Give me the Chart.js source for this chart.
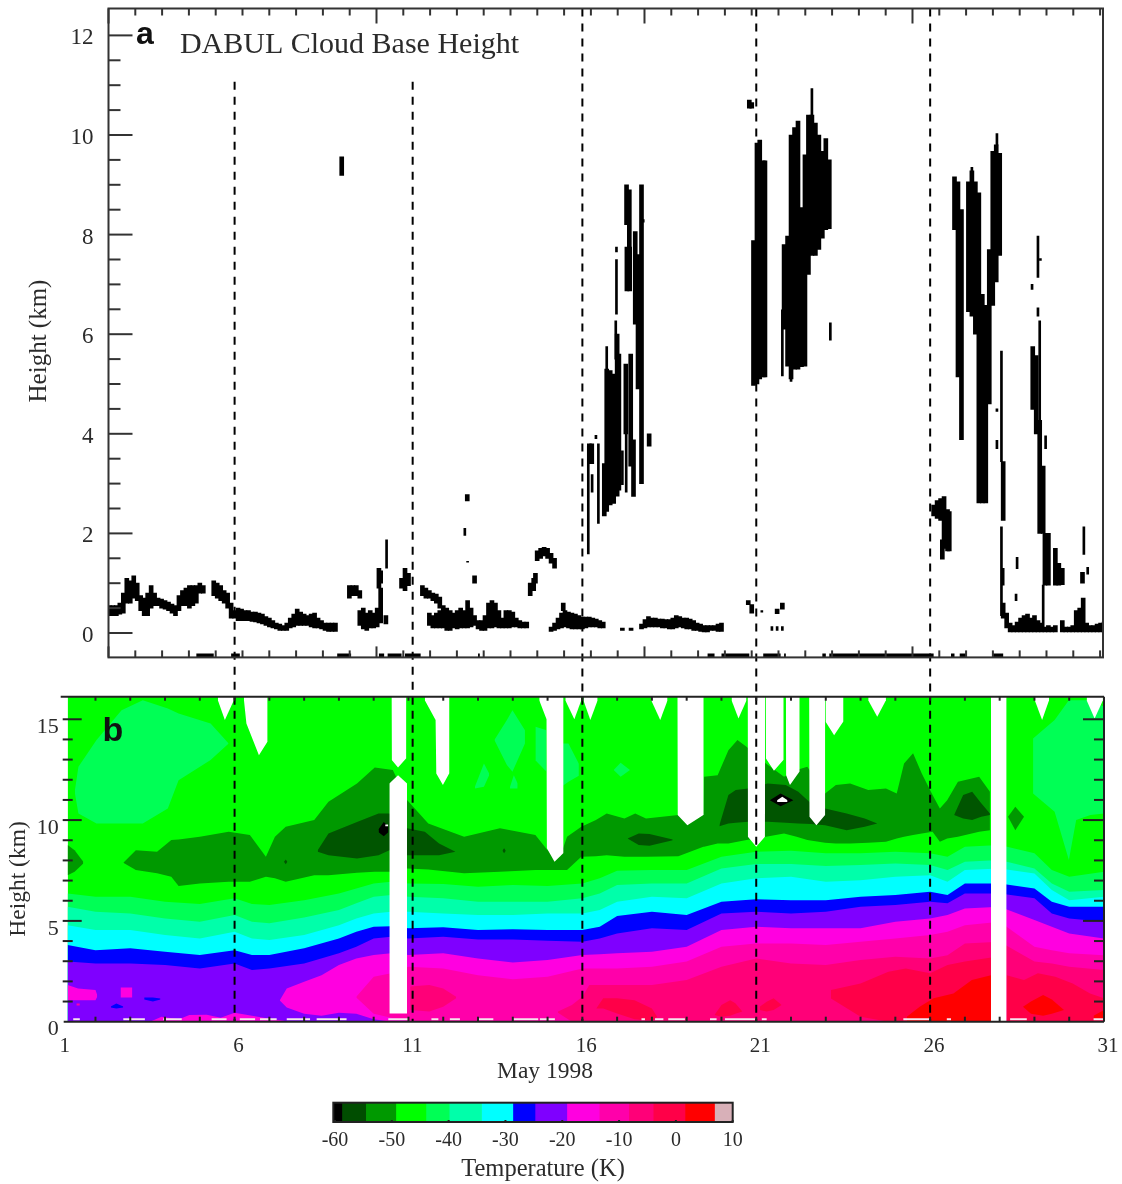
<!DOCTYPE html>
<html><head><meta charset="utf-8">
<script src="https://cdn.jsdelivr.net/npm/chart.js@4/dist/chart.umd.min.js"></script>
<style>html,body{margin:0;padding:0;background:#fff;width:1122px;height:1184px;overflow:hidden}canvas{position:absolute;display:block}</style>
</head><body>
<canvas id="pa" width="1122" height="697" style="left:0;top:0;width:1122px;height:697px"></canvas>
<canvas id="pb" width="1122" height="410" style="left:0;top:690px;width:1122px;height:410px"></canvas>
<canvas id="pc" width="470" height="89" style="left:300px;top:1095px;width:470px;height:89px"></canvas>
<script>
// ---------- panel a: cloud base spans [day, low km, high km]
const lowBandA=[[2.4,.35,.55],[2.5,.35,.55],[2.6,.35,.55],[2.7,.38,.6],[2.8,.4,.8],[2.9,.6,1.1],[3,.6,1.05],[3.1,.7,1.15],[3.2,.65,1],[3.3,.45,.75],[3.4,.35,.7],[3.5,.35,.8],[3.6,.5,.95],[3.7,.55,.8],[3.8,.55,.7],[3.9,.5,.68],[4,.48,.65],[4.1,.45,.62],[4.2,.4,.58],[4.3,.35,.55],[4.4,.45,.75],[4.5,.55,.85],[4.6,.55,.9],[4.7,.5,.95],[4.8,.55,.95],[4.9,.6,.95],[5,.8,1],[5.1,.8,.95],[5.4,.75,1.05],[5.5,.7,1],[5.6,.65,.95],[5.7,.6,.85],[5.8,.5,.8],[5.9,.3,.6],[6,.3,.45]];
const lowBandB=[[6.1,.25,.5],[6.2,.25,.48],[6.3,.25,.45],[6.4,.25,.45],[6.5,.23,.42],[6.6,.22,.42],[6.7,.2,.4],[6.8,.18,.38],[6.9,.15,.33],[7,.12,.3],[7.1,.1,.25],[7.2,.08,.2],[7.3,.05,.18],[7.4,.05,.15],[7.5,.05,.2],[7.6,.1,.3],[7.7,.12,.38],[7.8,.15,.48],[7.9,.15,.42],[8,.15,.38],[8.1,.15,.35],[8.2,.12,.38],[8.3,.1,.4],[8.4,.1,.3],[8.5,.08,.25],[8.6,.05,.2],[8.7,.03,.2],[8.8,.03,.2],[8.9,.03,.2]];
const lowBandC=[[9.3,.7,.95],[9.4,.75,.95],[9.5,.75,.95],[9.6,.7,.85],[9.6,.15,.45],[9.7,.08,.5],[9.8,.05,.4],[9.9,.1,.45],[10,.1,.4],[10.1,.12,.5],[10.15,.9,1.3],[10.2,.2,.9],[10.2,1,1.25],[10.35,.18,.35],[10.8,.9,1.1],[10.9,.85,1.3],[11,.95,1.2],[11.4,.75,.95],[11.5,.7,.9],[11.6,.7,.85],[11.7,.65,.8],[11.8,.6,.78],[11.9,.5,.72]];
const lowBandD=[[11.6,.15,.4],[11.7,.1,.35],[11.8,.1,.4],[11.9,.1,.45],[12,.1,.55],[12.1,.05,.5],[12.2,.05,.45],[12.3,.1,.4],[12.4,.08,.45],[12.5,.1,.5],[12.6,.1,.45],[12.7,.1,.65],[12.8,.12,.5],[12.9,.15,.35],[13,.08,.25],[13.1,.05,.25],[13.2,.05,.35],[13.3,.1,.6],[13.4,.1,.65],[13.5,.12,.6],[13.6,.1,.45],[13.7,.1,.3],[13.8,.1,.45],[13.9,.1,.45],[14,.12,.42],[14.1,.12,.3],[14.2,.1,.25],[14.3,.1,.22],[14.4,.1,.22]];
const lowBandE=[[15.1,.03,.12],[15.2,.05,.2],[15.3,.08,.3],[15.4,.1,.4],[15.5,.12,.45],[15.6,.1,.42],[15.7,.08,.4],[15.8,.08,.38],[15.9,.08,.35],[16,.08,.32],[16.1,.1,.32],[16.2,.12,.32],[16.3,.12,.3],[16.4,.12,.28],[16.5,.1,.25],[16.6,.1,.22],[17.15,.05,.1],[17.4,.05,.1]];
const lowBandF=[[17.7,.08,.18],[17.8,.1,.27],[17.9,.12,.33],[18,.12,.3],[18.1,.12,.3],[18.2,.12,.28],[18.3,.1,.28],[18.4,.1,.27],[18.5,.08,.27],[18.6,.08,.3],[18.7,.1,.35],[18.8,.12,.33],[18.9,.1,.3],[19,.08,.3],[19.1,.08,.28],[19.2,.05,.25],[19.3,.05,.2],[19.4,.03,.18],[19.5,.02,.15],[19.6,.02,.15],[19.7,.05,.15],[19.8,.05,.15],[19.9,.03,.18],[20,.03,.2]];
const lowBandG=[[28.1,.3,.6],[28.2,.1,.4],[28.3,.02,.2],[28.4,.02,.15],[28.5,.02,.22],[28.6,.02,.3],[28.7,.02,.35],[28.8,.02,.38],[28.9,.02,.3],[29,.02,.35],[29.1,.02,.25],[29.2,.02,.2],[29.3,.02,.12],[29.4,.02,.15],[29.5,.02,.12],[29.6,.02,.15],[29.8,.02,.25],[29.9,.02,.12],[30,.02,.12],[30.1,.02,.15],[30.2,.02,.45],[30.3,.02,.5],[30.4,.02,.7],[30.5,.02,.2],[30.6,.02,.15],[30.7,.02,.15],[30.8,.02,.18],[30.9,.02,.2],[31,.02,.22]];
const smallPieces=[[9.08,9.19,9.56],[12.69,2.65,2.78],[12.9,1,1.15],[14.5,.75,1],[14.6,.85,1.1],[14.65,1,1.2],[14.7,1.45,1.65],[14.8,1.5,1.7],[14.9,1.55,1.72],[15,1.5,1.7],[15.1,1.4,1.6],[15.2,1.3,1.5],[15.45,.45,.6],[20.8,10.54,10.7],[20.87,10.54,10.65],[20.77,.57,.65],[20.87,.4,.57],[21.6,.39,.48],[21.75,.48,.6],[26.1,2.35,2.57],[26.2,2.3,2.66],[26.3,2.26,2.7],[26.35,1.48,1.87],[26.4,1.7,2.74],[26.5,1.65,2.48],[26.55,1.65,2.44],[29.6,.96,1.7],[29.7,.96,1.4],[29.8,.97,1.3],[30.38,1,1.22]];
const cloudCol16=[[16.2,3.4,3.8],[16.27,3.4,3.8],[16.63,2.35,3.4],[16.7,2.44,5.3],[16.8,2.57,5.27],[16.9,2.6,5.2],[17,2.75,6],[17.05,2.87,5.6],[17.27,8.2,9],[17.35,7.6,8.9],[17.28,6.87,7.75],[17.36,6.87,7.75],[17.25,4,5.4],[17.39,3.35,5.6],[17.47,2.74,3.88],[17.52,6.2,8.06],[17.6,4.9,7.6],[17.7,3,9],[17.92,3.75,4]];
const cloudCol21=[[20.92,4.97,7.88],[21.02,5,9.84],[21.1,5.1,9.9],[21.2,5.14,9.48],[21.25,5.14,9.48]];
const cloudCol22=[[21.8,6.1,7.8],[21.9,5.36,7.97],[22,5.1,10],[22.1,5.3,10.15],[22.2,5.3,10.28],[22.3,5.35,8.54],[22.4,5.36,9.6],[22.5,7.2,10.4],[22.6,7.58,10.4],[22.7,7.58,10.24],[22.8,7.7,10],[22.9,7.93,9.67],[23,8.1,9.93],[23.1,8.12,9.5]];
const cloudCol27=[[26.7,8.1,9.16],[26.8,5.14,9.06],[26.9,3.88,8.5],[27.1,6.45,9.06],[27.2,6.36,9.28],[27.3,6,9.06],[27.4,2.61,8.84],[27.5,2.61,6.8],[27.6,2.61,6.58],[27.7,4.6,7.7],[27.8,6.58,9.67],[27.9,7.05,9.8],[28,7.58,9.63],[28.1,2.26,3.44],[28.95,4.49,5.75],[29.05,4,5.57],[29.15,2,4.27],[29.25,2,3.35],[29.3,.96,2],[29.4,.96,2]];
const thinSpans=[[10.37,1.3,1.87],[12.62,1.96,2.1],[12.7,1.42,1.44],[16.17,1.59,3.75],[16.28,2.83,3.18],[16.46,2.2,3.8],[16.39,3.9,3.97],[16.7,5.3,5.75],[16.98,6.4,7.5],[16.98,7.65,7.75],[16.96,5.5,6.27],[17.15,2.98,3.66],[17.26,2.83,4],[17.75,8.25,8.3],[21.75,5.16,6.49],[22.0,5.05,5.3],[22.6,10.4,10.93],[23.13,5.88,6.23],[21.16,.42,.45],[21.6,.05,.13],[21.45,.05,.13],[21.75,.05,.13],[27.92,9.8,10.03],[27.92,4.45,4.5],[27.92,3.7,3.87],[28.05,3.44,5.66],[28.05,.35,2.13],[28.1,.96,1.3],[29.1,7.14,7.97],[29.17,7.48,7.52],[28.93,6.9,7],[29.1,6.36,6.53],[29.15,3.66,6.27],[29.32,3.7,3.96],[29.25,.09,.96],[28.47,.65,.78],[28.5,1.29,1.52],[30.42,1.58,2.13],[30.53,1.18,1.32],[27.2,9.06,9.35]];
const floorSpans=[[4.9,5.4],[5.9,6.15],[8.95,9.35],[10.15,10.3],[10.4,10.8],[10.9,11.35],[13,13.05],[19.6,19.8],[20,20.8],[21.2,21.7],[21.8,21.85],[22.9,23],[23.1,26.1],[26.6,26.7],[26.85,27.05],[27.8,28.1]];
const dashDays=[6,11.12,16,21,26];
const dashTopsA=[11.07,11.07,12.54,12.54,12.54];
const aTickStart=2.374, aTickStep=0.7706, aTickCount=38, aMajorEvery=10;
const aYMajor=[0,2,4,6,8,10,12];
const aYMinor=[.5,1,1.5,2.5,3,3.5,4.5,5,5.5,6.5,7,7.5,8.5,9,9.5,10.5,11,11.5];
// ---------- panel b: isotherm heights (km) on a shared day grid
const isoDays=[1.2,2,3,4,5,6,6.5,7,8,9,9.5,10,10.5,11,12,13,14,15,16,16.5,17,18,19,20,21,22,23,24,25,26,26.5,27,28,29,29.5,30,31];
const isoGreen=[6.36,6.2,6.2,5.95,5.84,6.12,5.84,5.79,6.03,6.36,6.61,6.86,6.94,6.86,6.83,6.69,6.78,6.73,6.86,7.11,7.49,7.52,7.52,8.18,8.43,8.48,8.35,8.35,8.43,8.35,8.18,8.68,8.76,8.35,7.52,7.19,7.44];
const isoAqua=[5.7,5.45,5.37,5.12,4.96,5.29,4.96,4.88,5.17,5.54,5.87,6.2,6.28,6.2,6.12,5.95,5.95,5.95,6.12,6.36,6.78,6.86,6.86,7.6,7.82,7.82,7.72,7.77,7.85,7.77,7.52,7.93,8.02,7.6,6.86,6.45,6.53];
const isoCyan=[4.79,4.55,4.55,4.3,4.13,4.46,4.13,4.05,4.3,4.79,5.12,5.37,5.45,5.45,5.37,5.29,5.29,5.37,5.37,5.54,5.95,6.2,6.12,6.86,7.11,7.19,6.94,7.02,7.19,7.27,6.94,7.52,7.6,7.35,6.53,6.03,6.2];
const isoBlue=[3.8,3.55,3.64,3.47,3.31,3.55,3.31,3.31,3.64,4.13,4.46,4.71,4.74,4.63,4.68,4.55,4.58,4.55,4.55,4.71,5.24,5.45,5.29,5.95,6.07,6.03,6.03,6.2,6.28,6.45,6.28,6.86,6.86,6.61,5.95,5.7,5.7];
const isoViolet=[2.98,2.89,2.89,2.81,2.64,2.89,2.56,2.64,2.89,3.39,3.72,4.13,4.21,4.13,4.21,4.08,4.08,4.02,3.97,4.13,4.38,4.63,4.55,5.37,5.45,5.37,5.45,5.7,5.79,5.95,5.87,6.36,6.36,6.12,5.37,5.12,4.96];
const magentaDays=[7.3,7.5,8,8.5,9,9.5,10,10.5,11,12,13,14,15,16,16.5,17,18,19,20,21,22,23,24,25,26,26.5,27,28,29,29.5,30,31];
const magentaTop=[1.07,1.65,1.98,2.31,2.81,3.14,3.31,3.39,3.31,3.39,3.14,2.94,3.06,3.31,3.34,3.39,3.47,3.72,4.55,4.71,4.63,4.63,4.63,4.96,5.12,5.29,5.62,5.7,5.04,4.71,4.38,4.13];
const magentaBase=[1.05,.7,.4,.3,.45,.4,.12,0,0,0,0,0,0,0,0,0,0,0,0,0,0,0,0,0,0,0,0,0,0,0,0,0];
const hotDays=[9.5,10,10.5,11,12,13,14,15,16,16.5,17,18,19,20,21,22,23,24,25,26,26.5,27,28,29,29.5,30,31];
const hotTop=[1.24,2.23,2.4,2.73,2.64,2.31,2.1,2.23,2.64,2.64,2.64,2.73,2.98,3.72,3.88,3.88,3.8,3.97,4.13,4.3,4.46,4.79,4.96,3.72,3.55,3.39,3.3];
const hotBase=[1.2,.4,.2,.05,0,0,0,0,0,0,0,0,0,0,0,0,0,0,0,0,0,0,0,0,0,0,0];
const pinkDays=[15.3,15.7,16,16.2,17,18,19,20,21,22,23,24,25,26,26.5,27,28,29,29.5,30,31];
const pinkTop=[.5,.83,1.24,1.82,1.82,1.82,2.07,2.73,3.14,2.89,2.81,3.06,3.22,3.14,3.3,3.88,3.97,2.98,2.89,2.73,2.56];
const pinkBase=[.45,0,0,0,0,0,0,0,0,0,0,0,0,0,0,0,0,0,0,0,0];
// patches: [days, upper km, lower km]
const surfaceMagenta=[[3.6,3.9,4.4,4.7,5.2,5.6,6,6.5,7,7.5],[.02,.25,.12,.33,.35,.2,.45,.3,.15,.02],[0,0,0,0,0,0,0,0,0,0]];
const magentaA=[[1.2,1.5,2,2.05],[1.82,1.65,1.57,1.32],[1.07,1.07,1.07,1.24]];
const magentaB=[[2.72,3.06],[1.7,1.7],[1.2,1.2]];
const magentaC=[[1.45,1.55],[.9,.9],[.8,.8]];
const blueSpeckA=[[2.44,2.6,2.8],[.75,.9,.75],[.7,.66,.7]];
const blueSpeckB=[[3.4,3.65,3.87],[1.2,1.2,1.15],[1.1,1,1.1]];
const pinkLensA=[[11.05,11.6,12,12.37],[1.74,1.82,1.65,1.24],[.58,.5,.74,1.16]];
const roseBig=[[23.15,24,24.8,25.3,26,26.5,27,27.9],[1.57,1.9,2.48,2.64,2.4,2.81,2.98,3.22],[1.15,.25,0,0,0,0,0,0]];
const roseRight=[[28.2,28.7,29.1,29.6,30.1,30.6,31],[2.31,2.07,2.4,2.23,1.9,1.4,1.16],[0,0,0,0,0,0,0]];
const roseA=[[16.4,16.6,17,17.5,18,18.15],[.66,1.16,1.16,1.07,.66,.25],[.66,.66,.41,.12,.05,.25]];
const roseB=[[19.8,20,20.25,20.4,20.6],[.33,.83,1.07,.91,.5],[.33,.25,.3,.4,.5]];
const roseC=[[21.1,21.3,21.5,21.73],[.74,.99,1.16,.83],[.58,.5,.58,.83]];
const redBig=[[25.33,25.7,26.1,26.67,27.2,27.75],[.25,.74,1.16,1.4,2.07,2.31],[0,0,0,0,0,0]];
const redRight=[[28.67,28.9,29.25,29.5,29.85],[.74,1,1.32,1.1,.58],[.74,.4,.3,.4,.58]];
const redEdge=[[30.7,31],[.3,.58],[.08,.08]];
const strato1=[[1.41,1.51,2.03,2.75,3.36,4.08,4.39,5.31,5.83],[11.49,12.64,13.97,15.45,15.95,15.54,15.29,14.79,13.8],[11.32,10.33,9.83,9.83,9.83,10.58,11.98,12.98,13.8]];
const strato2=[[13.47,13.83,13.99,14.35],[13.97,14.96,15.45,14.46],[13.97,12.73,12.4,13.8]];
const strato3=[[12.91,13.17,13.32],[11.65,12.81,12.31],[11.57,11.65,12.23]];
const strato4=[[13.92,14.03,14.14],[11.65,12.23,11.82],[11.57,11.57,11.57]];
const strato5=[[14.65,14.97],[14.63,14.46],[12.97,12.4]];
const strato6=[[15.4,15.6,15.9],[13.8,13.8,12.8],[11.65,11.9,12.2]];
const strato7=[[16.9,17.1,17.37],[12.48,12.85,12.48],[12.48,12.15,12.48]];
const strato8=[[28.96,29.58,29.99,30.2,30.61,31],[14.05,14.96,15.95,15.95,15.95,15.62],[11.32,10.41,8.02,10,10.25,10.33]];
const darkLeft=[[1.2,1.4,1.65],[8.76,8.51,7.93],[7.27,7.44,7.85]];
const darkDays=[2.8,3.16,3.77,4.18,4.39,5,5.83,6.44,6.9,7.16,7.47,8.29,8.7,9.52,10.03,10.55,10.96,11.57,12.6,13.63,14.65,15,15.36,15.56,15.97,16.39,16.7,17.21,17.52,17.83,18.76,19.48,19.5,19.89,20.2,20.46,20.72,21.28,21.8,22.16,22.47,22.98,23.29,23.7,24.22,24.73,25.04,25.25,25.51,25.76,26.07,26.28,26.49,26.8,27.41,27.72];
const darkTop=[7.88,8.51,8.43,9.01,9.04,9.17,9.42,9.26,8.18,9.17,9.67,10,10.91,11.82,12.61,12.48,11,9.83,9.17,9.59,9.26,8.51,8.18,9.17,9.67,10,10.33,10.08,10.33,10.08,10.25,10.25,12.15,12.23,13.47,13.97,13.64,12.81,12.15,12.48,12.64,11.32,11.74,11.82,11.49,11.57,11.32,12.81,13.31,12.31,11.24,10.58,10.99,11.9,12.15,11.4];
const darkBase=[7.88,7.52,7.36,7.19,6.73,6.86,6.94,6.94,7.19,7.11,6.94,7.27,7.27,7.39,7.44,7.44,7.6,7.55,7.36,7.44,7.52,7.52,7.52,7.52,8.18,8.21,8.26,8.18,8.18,8.18,8.21,8.68,8.68,8.84,8.84,8.93,9.01,9.17,9.34,9.17,9.01,8.88,8.84,8.84,8.88,8.93,9.09,9.17,9.26,9.34,9.42,8.93,9.09,9.17,9.42,9.5];
const darkDiamond=[[28.24,28.45,28.7],[10.17,10.66,10.17],[10.17,9.5,10.17]];
const deepA=[[8.39,8.7,9.52,10.14,10.45,10.96,11.47,11.88,12.35],[8.51,9.34,9.91,10.33,10.33,9.59,9.42,8.84,8.43],[8.43,8.26,8.1,8.26,8.51,8.26,8.26,8.26,8.43]];
const deepB=[[17.3,17.62,17.93,18.6],[9.09,9.34,9.31,9.04],[9.09,8.76,8.73,9]];
const deepC=[[19.94,20.2,20.41,20.77,21.33,21.85,22.21,22.57,22.98,23.6,24.12,24.48],[9.75,11.24,11.49,11.57,11.82,11.74,11.4,10.83,10.58,10.33,10.08,9.83],[9.7,9.83,9.87,9.92,9.92,9.87,9.83,9.8,9.75,9.5,9.67,9.83]];
const deepD=[[26.69,26.95,27.21,27.47,27.72],[10.25,11.24,11.4,10.83,10.33],[10.25,10.08,10,10.17,10.25]];
const dotA=[[7.42,7.47,7.52],[7.93,8.05,7.93],[7.93,7.81,7.93]];
const dotB=[[13.7,13.75,13.8],[8.48,8.6,8.48],[8.48,8.36,8.48]];
const blackA=[[10.14,10.29,10.42],[9.55,9.9,9.7],[9.4,9.2,9.4]];
const blackB=[[21.39,21.7,22.07],[10.99,11.32,10.99],[10.99,10.69,10.99]];
const whiteSpecks=[[[10.33,10.42],[9.78,9.78],[9.7,9.7]],[[21.6,21.75,21.9],[10.99,11.16,10.99],[10.9,10.9,10.9]]];
// missing data (white), hanging from top of the plot: [days, lower km]
const missingTop=[
 [[5.52,5.72,5.98],[15.95,14.96,15.95]],
 [[6.27,6.34,6.7,6.94,6.95],[15.95,14.79,13.22,13.87,15.95]],
 [[10.51,10.52,10.7,10.93,10.94],[16.12,12.98,12.61,13.06,16.12]],
 [[11.47,11.78,11.8,11.99,12.17,12.18],[15.95,14.96,12.31,11.74,12.31,16.12]],
 [[14.76,14.97,14.98,15.2,15.45,15.46],[15.95,15,8.6,7.93,8.35,16.12]],
 [[15.51,15.77,15.97],[15.95,15,15.95]],
 [[16.03,16.23,16.44],[15.95,14.96,15.95]],
 [[17.98,18.24,18.45],[15.95,14.96,15.95]],
 [[18.73,18.74,19.02,19.48,19.49],[16.12,10.25,9.75,10.25,16.12]],
 [[20.29,20.49,20.72],[15.95,15.04,15.95]],
 [[20.75,20.76,21,21.25,21.26],[16.12,9.17,8.68,9.17,16.12]],
 [[21.27,21.28,21.51,21.78,21.79],[16.12,13.06,12.45,12.98,16.12]],
 [[21.85,21.86,21.97,22.24,22.25],[16.12,12.23,11.74,12.4,16.12]],
 [[22.52,22.53,22.73,22.98,22.985],[16.12,10.17,9.75,10.25,16.12]],
 [[22.99,22.995,23.24,23.5,23.51],[16.12,14.88,14.21,14.88,16.12]],
 [[24.22,24.48,24.73],[15.95,15.12,15.95]],
 [[27.75,28.2],[0,0]],
 [[29.01,29.22,29.42],[15.95,14.96,15.95]],
 [[30.5,30.73,30.97],[15.95,15.04,15.95]]
];
const missingColumn=[[10.45,10.7,10.96],[11.82,12.23,11.82],[.41,.41,.41]];
const surfaceDashes=[[1.36,1.55],[2.8,3.42],[3.95,4.48],[5.34,5.77],[6.15,6.59],[6.73,7.21],[7.5,8.17],[8.36,9.22],[10.42,10.99],[11.66,11.86],[12.19,12.48],[13,13.44],[14.01,14.73],[14.78,15.21],[17.7,17.8],[18.09,18.33],[18.47,18.95],[19.67,19.86],[20.1,20.97],[21.16,21.3],[25.23,26],[26.48,26.6],[28.3,28.78],[30.7,31]];
const bXLabels=[1,6,11,16,21,26,31];
const bYMajor=[0,5,10,15];
const bYMinor=[1,2,3,4,6,7,8,9,11,12,13,14];
// ---------- colour bar
const barEdges=[-60.3,-58.8,-54.6,-49.3,-44,-39.9,-34.2,-28.7,-24.8,-19.2,-13.5,-8.3,-4,1.6,6.8,10];
const barColors=['#000000','#004d00','#009900','#00ff00','#00ff55','#00ffaa','#00ffff','#0000ff','#7f00ff','#ff00e0','#ff00aa','#ff0078','#ff0048','#ff0000','#d8b0b8'];
const barLabels=[-60,-50,-40,-30,-20,-10,0,10];

const SERIF='"Liberation Serif",serif', SANS='"Liberation Sans",sans-serif', INK='#2b2b2b';
const xy=(d,v)=>d.map((x,i)=>({x,y:v[i]}));
const spans=r=>r.map(s=>({x:s[0],y:[s[1],s[2]]}));
const runs=(r,y)=>r.flatMap(s=>[{x:s[0],y},{x:s[1],y},{x:s[1],y:NaN}]);
const zeroPad=s=>{s.paddingTop=0;s.paddingBottom=0;s.paddingLeft=0;s.paddingRight=0};
const fitW=w=>s=>{s.width=w;zeroPad(s)};
const fitH=h=>s=>{s.height=h;zeroPad(s)};
const setTicks=v=>s=>{s.ticks=v.map(value=>({value}))};
const pin=(c,top)=>{const d=c.chartArea.top-top;if(Math.abs(d)>.01){c.options.layout.padding.top-=d;c.update();}};

function freeText(items){return{id:'freeText',afterDraw(c){const g=c.ctx;for(const t of items){g.save();g.translate(t.x,t.y);if(t.rot)g.rotate(t.rot);g.font=t.font;g.fillStyle=t.color||INK;g.textAlign='center';g.textBaseline='middle';g.fillText(t.text,0,0);g.restore();}}}}
function line(g,x1,y1,x2,y2){g.beginPath();g.moveTo(x1,y1);g.lineTo(x2,y2);g.stroke();}

const aTicks=[];for(let k=0;k<aTickCount;k++)aTicks.push({d:aTickStart+k*aTickStep,major:k%aMajorEvery===0});
const framesA={id:'frameA',afterDraw(c){const g=c.ctx,a=c.chartArea,X=c.scales.x,Y=c.scales.y;g.save();g.strokeStyle='#333';g.lineWidth=2;g.strokeRect(a.left,a.top,a.right-a.left,a.bottom-a.top);
 for(const v of aYMajor){const p=Y.getPixelForValue(v);line(g,a.left,p,a.left+24,p);}
 for(const v of aYMinor){const p=Y.getPixelForValue(v);line(g,a.left,p,a.left+12,p);}
 for(const t of aTicks){const p=X.getPixelForValue(t.d);const up=t.major?15:7;line(g,p,a.top,p,a.top+up);line(g,p,a.bottom,p,a.bottom-(t.major?11:7));}
 g.restore();}};
const framesB={id:'frameB',afterDraw(c){const g=c.ctx,a=c.chartArea,X=c.scales.x,Y=c.scales.y;g.save();g.strokeStyle='#222';g.lineWidth=2;
 line(g,a.left,a.top,a.right,a.top);line(g,a.left+3,a.bottom,a.right,a.bottom);line(g,a.right,a.top,a.right,a.bottom);
 for(const v of bYMajor){if(v===0)continue;const p=Y.getPixelForValue(v);line(g,a.left+2,p,a.left+21,p);line(g,a.right,p,a.right-21,p);}
 for(const v of bYMinor){const p=Y.getPixelForValue(v);line(g,a.left+2,p,a.left+12,p);line(g,a.right,p,a.right-10,p);}
 for(let d=2;d<31;d++){const p=X.getPixelForValue(d);line(g,p,a.top,p,a.top+4);line(g,p,a.bottom,p,a.bottom-5);}
 g.restore();}};
const framesC={id:'frameC',afterDraw(c){const g=c.ctx,a=c.chartArea,X=c.scales.x;g.save();g.strokeStyle='#222';g.lineWidth=2;g.strokeRect(a.left,a.top,a.right-a.left,a.bottom-a.top);
 for(const v of barLabels){const p=X.getPixelForValue(v);line(g,p,a.bottom,p,a.bottom-2);}g.restore();}};

// ---- panel a
const wideRows=[...lowBandA,...lowBandB,...lowBandC,...lowBandD,...lowBandE,...lowBandF,...lowBandG,...smallPieces,...cloudCol16,...cloudCol21,...cloudCol22,...cloudCol27];
const dashA=dashDays.map((d,i)=>({type:'line',data:xy([d,d],[dashTopsA[i],-1.27]),borderColor:'#000',borderWidth:2,borderDash:[8,7],pointRadius:0,clip:false,fill:false,tension:0}));
const chartA=new Chart(document.getElementById('pa'),{type:'bar',data:{datasets:[
 ...dashA,
 {type:'line',data:runs(floorSpans,-.45),borderColor:'#000',borderWidth:4,pointRadius:0,fill:false,spanGaps:false},
 {type:'bar',data:spans(wideRows),backgroundColor:'#000',barThickness:4,grouped:false},
 {type:'bar',data:spans(thinSpans),backgroundColor:'#000',barThickness:2,grouped:false}
]},options:{responsive:false,animation:false,devicePixelRatio:1,events:[],layout:{autoPadding:false,padding:{left:0,top:8.5,right:19,bottom:0}},
 plugins:{legend:{display:false},tooltip:{enabled:false}},
 scales:{x:{type:'linear',offset:false,min:2.374,max:30.97,afterFit:fitH(39.6),grid:{display:false,drawTicks:false},border:{display:false},ticks:{display:false}},
  y:{type:'linear',min:-.49,max:12.54,afterFit:fitW(108.5),afterBuildTicks:setTicks(aYMajor),grid:{display:false,drawTicks:false},border:{display:false},
   ticks:{autoSkip:false,padding:15,labelOffset:3,color:INK,font:{family:SERIF,size:23},callback:v=>String(v)}}}},
 plugins:[framesA,freeText([
  {text:'a',x:145,y:35,font:'bold 32px '+SANS,color:'#111'},
  {text:'DABUL Cloud Base Height',x:349.5,y:45,font:'30px '+SERIF},
  {text:'Height (km)',x:39,y:341,rot:-Math.PI/2,font:'25px '+SERIF}])]});
pin(chartA,8.5);

// ---- panel b
const layers=[];
const band=(d,v,color)=>layers.push({data:xy(d,v),fill:'start',backgroundColor:color});
const lens=(p,color)=>{layers.push({data:xy(p[0],p[1]),fill:'+1',backgroundColor:color});layers.push({data:xy(p[0],p[2]),fill:false});};
const hang=(p)=>layers.push({data:xy(p[0],p[1]),fill:'end',backgroundColor:'#ffffff'});
band([1.2,31],[16.12,16.12],'#00ff00');
band(isoDays,isoGreen,'#00ff55');band(isoDays,isoAqua,'#00ffaa');band(isoDays,isoCyan,'#00ffff');band(isoDays,isoBlue,'#0000ff');band(isoDays,isoViolet,'#7f00ff');
lens(surfaceMagenta,'#ff00e0');lens(magentaA,'#ff00e0');lens(magentaB,'#ff00e0');lens(magentaC,'#ff00aa');lens(blueSpeckA,'#0000ff');lens(blueSpeckB,'#0000ff');
lens([magentaDays,magentaTop,magentaBase],'#ff00e0');
lens([hotDays,hotTop,hotBase],'#ff00aa');
lens([pinkDays,pinkTop,pinkBase],'#ff0078');lens(pinkLensA,'#ff0078');
[roseBig,roseRight,roseA,roseB,roseC].forEach(p=>lens(p,'#ff0048'));
[redBig,redRight,redEdge].forEach(p=>lens(p,'#ff0000'));
[strato1,strato2,strato3,strato4,strato5,strato6,strato7,strato8].forEach(p=>lens(p,'#00ff55'));
lens([darkDays,darkTop,darkBase],'#009900');lens(darkLeft,'#009900');lens(darkDiamond,'#009900');
[deepA,deepB,deepC,deepD,dotA,dotB].forEach(p=>lens(p,'#005500'));
lens(blackA,'#000');lens(blackB,'#000');whiteSpecks.forEach(p=>lens(p,'#fff'));
missingTop.forEach(hang);lens(missingColumn,'#fff');
layers.push({data:runs(surfaceDashes,.12),fill:false,borderColor:'#f6e4ee',borderWidth:2,spanGaps:false});
dashDays.forEach(d=>layers.push({data:xy([d,d],[16.12,0]),fill:false,borderColor:'#000',borderWidth:2,borderDash:[8,6]}));
const N=layers.length;
layers.forEach((l,i)=>{l.order=N-i;l.pointRadius=0;l.tension=0;if(l.borderWidth===undefined)l.borderWidth=0;l.showLine=true;});
const chartB=new Chart(document.getElementById('pb'),{type:'scatter',data:{datasets:layers},options:{responsive:false,animation:false,devicePixelRatio:1,events:[],layout:{autoPadding:false,padding:{left:0,top:6.7,right:18,bottom:0}},
 plugins:{legend:{display:false},tooltip:{enabled:false},filler:{propagate:false}},
 scales:{x:{type:'linear',min:1,max:31,afterFit:fitH(78.3),afterBuildTicks:setTicks(bXLabels),grid:{display:false,drawTicks:false},border:{display:false},
   ticks:{autoSkip:false,maxRotation:0,padding:12,labelOffset:4,color:INK,font:{family:SERIF,size:21},callback:v=>String(v)}},
  y:{type:'linear',min:0,max:16.12,afterFit:fitW(60.7),afterBuildTicks:setTicks(bYMajor),grid:{display:false,drawTicks:false},border:{display:false},
   ticks:{autoSkip:false,padding:2,labelOffset:8,color:INK,font:{family:SERIF,size:22},callback:v=>String(v)}}}},
 plugins:[framesB,freeText([
  {text:'b',x:113,y:42,font:'bold 34px '+SANS,color:'#111'},
  {text:'Height (km)',x:19,y:189,rot:-Math.PI/2,font:'23.5px '+SERIF},
  {text:'May 1998',x:545,y:382,font:'23.5px '+SERIF}])]});
pin(chartB,6.7);

// ---- colour bar
new Chart(document.getElementById('pc'),{type:'bar',data:{labels:['T'],datasets:barColors.map((c,i)=>({data:[[barEdges[i],barEdges[i+1]]],backgroundColor:c,grouped:false,barPercentage:1,categoryPercentage:1,borderWidth:0}))},
 options:{indexAxis:'y',responsive:false,animation:false,devicePixelRatio:1,events:[],layout:{autoPadding:false,padding:{left:33.3,top:7.7,right:37.3,bottom:0}},
 plugins:{legend:{display:false},tooltip:{enabled:false}},
 scales:{y:{display:false},x:{type:'linear',min:-60.3,max:10,afterFit:fitH(62),afterBuildTicks:setTicks(barLabels),grid:{display:false,drawTicks:false},border:{display:false},
  ticks:{autoSkip:false,maxRotation:0,padding:7,color:INK,font:{family:SERIF,size:20},callback:v=>String(v)}}}},
 plugins:[framesC,freeText([{text:'Temperature (K)',x:243,y:75,font:'24.5px '+SERIF}])]});
</script>
</body></html>
